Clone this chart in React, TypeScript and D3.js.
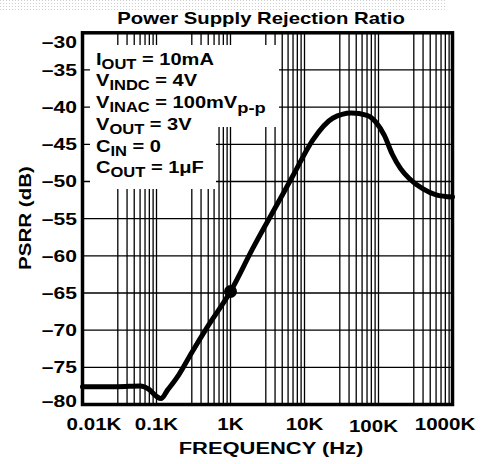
import React from "react";
import * as d3 from "d3";

const freqHz = [10, 30, 60, 80, 100, 115, 140, 200, 300, 500, 1000, 2000, 4600, 7000, 13000, 24000, 43000, 70000, 92000, 120000, 153000, 200000, 260000, 400000, 600000, 1000000];
const psrrDb = [-77.6, -77.6, -77.5, -78.0, -78.9, -79.2, -78.1, -76.0, -73.0, -69.4, -64.8, -59.0, -52.5, -49.2, -44.4, -41.5, -40.8, -41.1, -42.0, -43.8, -46.3, -48.3, -49.6, -51.0, -51.8, -52.1];
const markerFreq = 1000;
const markerDb = -64.8;

const yTickValues = [-30, -35, -40, -45, -50, -55, -60, -65, -70, -75, -80];
const xTickValues = [10, 100, 1000, 10000, 100000, 1000000];
const xTickLabels = ["0.01K", "0.1K", "1K", "10K", "100K", "1000K"];
const minorMultipliers = [3, 4, 5, 6, 7, 8, 9];

const title = "Power Supply Rejection Ratio";
const xTitle = "FREQUENCY (Hz)";
const yTitle = "PSRR (dB)";

// annotation lines: [main, sub, rest, sub2]
const notes: [string, string, string, string][] = [
  ["I", "OUT", " = 10mA", ""],
  ["V", "INDC", " = 4V", ""],
  ["V", "INAC", " = 100mV", "p-p"],
  ["V", "OUT", " = 3V", ""],
  ["C", "IN", " = 0", ""],
  ["C", "OUT", " = 1\u03bcF", ""],
];

const FONT = "'Liberation Sans', Arial, Helvetica, sans-serif";

function T(props: {
  x: number;
  y: number;
  size: number;
  sx?: number;
  anchor?: string;
  rotate?: number;
  children: React.ReactNode;
}) {
  const { x, y, size, sx = 1.25, anchor = "start", rotate = 0, children } = props;
  return (
    <g transform={`translate(${x},${y}) rotate(${rotate}) scale(${sx},1)`}>
      <text x={0} y={0} fontSize={size} fontWeight="bold" textAnchor={anchor} fill="#000">
        {children}
      </text>
    </g>
  );
}

export default function App() {
  const W = 495, H = 464;
  const x = d3.scaleLog().domain([10, 1e6]).range([82.5, 452.5]);
  const y = d3.scaleLinear().domain([-80, -30]).range([404.5, 32.8]);

  const gridX: number[] = [];
  for (let p = 1; p < 6; p++) {
    for (const m of minorMultipliers) gridX.push(m * Math.pow(10, p));
    if (p > 1) gridX.push(Math.pow(10, p));
  }
  const gridY = yTickValues.filter((v) => v !== -30 && v !== -80);

  const line = d3
    .line<number>()
    .x((_, i) => x(freqHz[i]))
    .y((d) => y(d))
    .curve(d3.curveMonotoneX);

  const [x0, x1] = x.range();
  const [yb, yt] = y.range();

  const noteBaselines = [65, 86, 108, 130, 152, 173];

  return (
    <svg
      width={W}
      height={H}
      style={{ position: "absolute", left: 0, top: 0, background: "#fff" }}
      fontFamily={FONT}
    >
      <defs>
        <pattern id="dots" width="3" height="3" patternUnits="userSpaceOnUse">
          <rect x="0" y="0" width="1" height="1" fill="#cfcfcf" />
        </pattern>
      </defs>
      <rect x={0} y={0} width={447} height={11} fill="url(#dots)" />

      <T x={261} y={24} size={16} sx={1.27} anchor="middle">
        {title}
      </T>

      {/* grid */}
      <g stroke="#000" strokeWidth={1.3}>
        {gridX.map((f, i) => (
          <line key={"gx" + i} x1={x(f)} x2={x(f)} y1={yt} y2={yb} />
        ))}
        {gridY.map((v, i) => (
          <line key={"gy" + i} x1={x0} x2={x1} y1={y(v)} y2={y(v)} />
        ))}
      </g>

      {/* annotation background */}
      <rect x={90} y={45} width={189} height={82} fill="#fff" />
      <rect x={90} y={126} width={126} height={63} fill="#fff" />

      {/* curve */}
      <path d={line(psrrDb) || ""} fill="none" stroke="#000" strokeWidth={5} strokeLinejoin="round" strokeLinecap="round" />
      <circle cx={x(markerFreq)} cy={y(markerDb)} r={6.5} fill="#000" />

      {/* frame */}
      <rect x={x0} y={yt} width={x1 - x0} height={yb - yt} fill="none" stroke="#000" strokeWidth={3.5} />

      {/* annotation text */}
      {notes.map((n, i) => (
        <T key={"n" + i} x={96} y={noteBaselines[i]} size={17} sx={1.18}>
          {n[0]}
          <tspan fontSize={14} dy={4}>{n[1]}</tspan>
          <tspan dy={-4}>{n[2]}</tspan>
          {n[3] ? <tspan fontSize={15.5} dy={5}>{n[3]}</tspan> : null}
        </T>
      ))}

      {/* y tick labels */}
      {yTickValues.map((v, i) => {
        let yy = y(v) + 6;
        if (v === -30) yy = 47.5;
        if (v === -80) yy = 406.5;
        return (
          <T key={"yl" + i} x={77} y={yy} size={17} sx={1.24} anchor="end">
            {"\u2013" + Math.abs(v)}
          </T>
        );
      })}

      {/* x tick labels */}
      {xTickValues.map((v, i) => {
        let xx = Math.min(Math.max(x(v), 94), 445);
        let yy = 430;
        if (i === 4) {
          xx -= 5;
          yy = 432;
        }
        return (
          <T key={"xl" + i} x={xx} y={yy} size={17} sx={1.21} anchor="middle">
            {xTickLabels[i]}
          </T>
        );
      })}

      <T x={271} y={454} size={17} sx={1.29} anchor="middle">
        {xTitle}
      </T>
      <T x={31} y={218} size={17} sx={1.21} anchor="middle" rotate={-90}>
        {yTitle}
      </T>
    </svg>
  );
}
